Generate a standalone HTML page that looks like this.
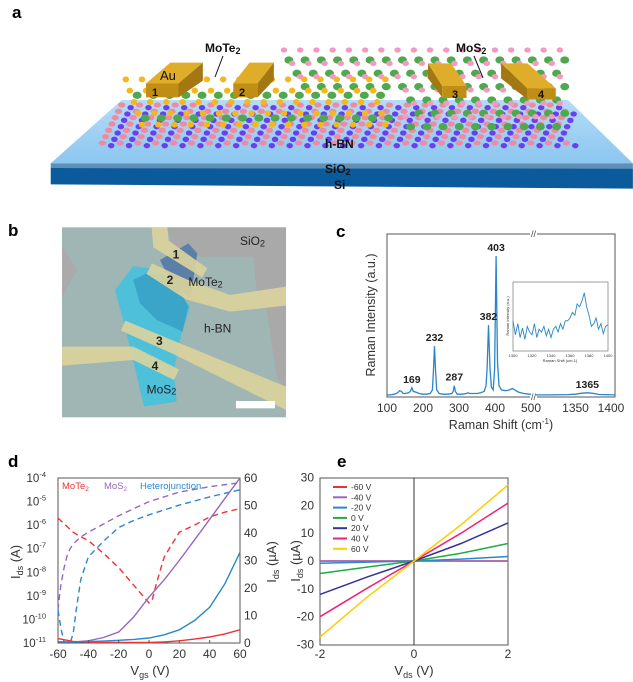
<!DOCTYPE html>
<html><head><meta charset="utf-8"><style>
html,body{margin:0;padding:0;background:#fff;}
svg{display:block;font-family:"Liberation Sans",sans-serif;}
</style></head><body>
<svg id="fig" width="633" height="682" viewBox="0 0 633 682" xmlns="http://www.w3.org/2000/svg">
<!-- PANEL A -->
<g id="panelA">
 <text x="12" y="18" font-size="17" font-weight="bold">a</text>
 <g id="aScene" transform="scale(0.4057,0.3333)">
  <defs><linearGradient id="slabG" x1="0" y1="0" x2="0" y2="1"><stop offset="0" stop-color="#b5dcf7"/><stop offset="1" stop-color="#8cc6f0"/></linearGradient></defs>
  <polygon points="300,300 1400,300 1560,490 125,490" fill="url(#slabG)"/>
  <polygon points="125,490 1560,490 1560,506 125,504" fill="#5f8fb5"/>
  <polygon points="125,504 1560,506 1560,566 125,553" fill="#0b5b9c"/>
  <g id="lattice"></g>
  <g><polygon points="360,250 420,188 500,188 440,250" fill="#e0ad2a"/><polygon points="440,250 500,188 500,242 440,292" fill="#a37812"/><rect x="360" y="250" width="80" height="42" fill="#c08e14"/></g>
  <g><polygon points="575,250 615,188 675,188 635,250" fill="#e0ad2a"/><polygon points="635,250 675,188 675,240 635,292" fill="#a37812"/><rect x="575" y="250" width="60" height="42" fill="#c08e14"/></g>
  <g><polygon points="1055,190 1112,190 1150,258 1090,258" fill="#e0ad2a"/><polygon points="1055,190 1090,258 1090,292 1055,235" fill="#a37812"/><rect x="1090" y="258" width="60" height="36" fill="#c08e14"/></g>
  <g><polygon points="1235,190 1300,190 1370,265 1300,265" fill="#e0ad2a"/><polygon points="1235,190 1300,265 1300,298 1235,235" fill="#a37812"/><rect x="1300" y="265" width="70" height="34" fill="#c08e14"/></g>
 </g>
 <g font-weight="bold" font-size="12" fill="#111">
  <text x="160" y="80" font-weight="normal" font-size="13">Au</text>
  <text x="152" y="96" font-size="11">1</text>
  <text x="239" y="96" font-size="11">2</text>
  <text x="452" y="98" font-size="11">3</text>
  <text x="538" y="98" font-size="11">4</text>
  <text x="205" y="52">MoTe<tspan font-size="9" dy="2">2</tspan></text>
  <text x="456" y="52">MoS<tspan font-size="9" dy="2">2</tspan></text>
  <text x="325" y="148">h-BN</text>
  <text x="325" y="173">SiO<tspan font-size="9" dy="2">2</tspan></text>
  <text x="334" y="189">Si</text>
 </g>
 <line x1="223" y1="56" x2="215" y2="77" stroke="#111" stroke-width="1"/>
 <line x1="474" y1="56" x2="483" y2="78" stroke="#111" stroke-width="1"/>
</g>

<!-- PANEL B -->
<g id="panelB">
 <text x="8" y="236" font-size="17" font-weight="bold">b</text>
 <g transform="translate(0,210) scale(0.3333)">
  <rect x="186" y="52" width="672" height="570" fill="#9fb6b5"/>
  <polygon points="500,52 858,52 858,540 830,500 800,300 770,240 760,140 600,140 520,110" fill="#a9a9a9"/>
  <polygon points="186,110 232,180 186,260" fill="#aaaaaa"/>
  <polygon points="345,240 400,168 480,180 570,290 545,370 522,480 530,575 432,590 392,420 372,340" fill="#4fc0da"/>
  <polygon points="400,210 440,190 520,200 565,290 548,365 470,330 420,280" fill="#3aa5c8"/>
  <polygon points="480,150 565,100 592,130 572,262 520,232" fill="#5b80a8"/>
  <g fill="#dcd39c" fill-opacity="0.9">
   <polygon points="455,52 502,52 506,92 622,175 606,202 460,112"/>
   <polygon points="440,192 456,160 560,208 690,255 858,230 858,287 690,305 558,268"/>
   <polygon points="363,362 376,332 520,392 858,530 858,600 520,432"/>
   <polygon points="186,410 400,410 537,478 522,510 400,450 186,467"/>
  </g>
  <g font-size="36" fill="#222">
   <text x="518" y="145" font-weight="bold">1</text>
   <text x="500" y="222" font-weight="bold">2</text>
   <text x="468" y="405" font-weight="bold">3</text>
   <text x="455" y="480" font-weight="bold">4</text>
   <text x="565" y="228">MoTe<tspan font-size="27" dy="4">2</tspan></text>
   <text x="612" y="368">h-BN</text>
   <text x="720" y="105">SiO<tspan font-size="27" dy="4">2</tspan></text>
   <text x="440" y="550">MoS<tspan font-size="27" dy="4">2</tspan></text>
  </g>
  <rect x="708" y="573" width="117" height="22" fill="#fff"/>
 </g>
</g>

<!-- PANEL C -->
<g id="panelC">
 <text x="336" y="237" font-size="17" font-weight="bold">c</text>
</g>
<!-- PANEL D -->
<g id="panelD">
 <text x="8" y="467" font-size="17" font-weight="bold">d</text>
</g>
<!-- PANEL E -->
<g id="panelE">
 <text x="337" y="467" font-size="17" font-weight="bold">e</text>
</g>
</svg>
<script>
// ---------- Panel C data ----------
const ramanShiftLeft = [100,110,120,130,135,140,145,150,160,165,169,173,180,190,200,210,220,226,229,232,235,238,245,255,270,280,284,287,290,295,310,320,325,330,340,350,360,370,375,378,382,386,390,395,399,403,407,411,418,430,440,448,455,465,480,495,500];
const ramanIntLeft = [1.5,1.5,2,3,4.5,4,2.5,2.5,3,4,6.5,4,3.5,2.5,2,2,2.5,5,18,36,18,5,2.5,2,2,2.5,4,8,4,2,2,2.5,3,2.5,2.5,2.5,3,4,8,20,51,20,7,5,20,100,25,8,5,4.5,5,6,5,3.5,2.5,2,2];
const ramanShiftRight = [1300,1320,1340,1350,1358,1365,1372,1380,1400];
const ramanIntRight = [1.5,1.5,1.7,2,2.7,3,2.6,1.8,1.5];
const peakLabels = [169,232,287,382,403,1365];
const peakHeights = [6.5,36,8,51,100,3];
const cTicksLeft = [100,200,300,400,500];
const cTicksRight = [1350,1400];
const insetInt = [45,20,40,15,32,12,35,25,20,40,15,30,25,35,18,30,15,30,35,25,40,30,45,45,50,60,55,75,70,80,95,70,55,35,40,50,30,40,22,35,38];
const insetTicks = [1300,1320,1340,1360,1380,1400];
// ---------- Panel D data ----------
const vgs = [-60,-55,-50,-45,-40,-30,-20,-10,0,2,5,10,20,30,40,50,60];
const mote2Log = [-5.7,-6.0,-6.3,-6.5,-6.65,-7.2,-7.8,-8.55,-9.3,-9.2,-8.45,-7.35,-6.3,-6.0,-5.65,-5.45,-5.3];
const mos2LogV = [-60,-59,-58,-56,-54,-52,-50,-45,-40,-30,-20,-10,0,20,40,60];
const mos2Log = [-9.6,-9.0,-8.5,-7.8,-7.3,-7.0,-6.8,-6.5,-6.3,-5.95,-5.6,-5.3,-5.0,-4.6,-4.37,-4.2];
const heteroLogV = [-60,-58,-56,-54,-52,-50,-48,-45,-40,-30,-20,-10,0,20,40,60];
const heteroLog = [-9.6,-10.4,-10.95,-11,-11,-10.6,-9.6,-8.3,-7.35,-6.68,-6.1,-5.8,-5.56,-5.15,-4.8,-4.5];
const vgsLin = [-60,-50,-40,-30,-20,-10,0,10,20,30,40,50,60];
const mote2Lin = [1.6,0.6,0.3,0.2,0.2,0.2,0.2,0.4,0.8,1.4,2.2,3.3,4.8];
const mos2Lin = [0.4,0.4,0.8,2,4,9.5,16.7,23,30,37.5,45,52.5,60];
const heteroLin = [0.4,0.4,0.5,0.7,1,1.3,1.8,3,4.8,8.2,13,21.5,33];
const dXTicks = [-60,-40,-20,0,20,40,60];
const dLogTicks = [-4,-5,-6,-7,-8,-9,-10,-11];
const dLinTicks = [0,10,20,30,40,50,60];
// ---------- Panel E data ----------
const vds = [-2,-1,0,1,2];
const eLabels = ['-60 V','-40 V','-20 V','0 V','20 V','40 V','60 V'];
const eColors = ['#ee3030','#9966bb','#2a88cc','#22aa44','#333399','#ee2277','#ffcc00'];
const eM60 = [0,0,0,0,0];
const eM40 = [0,0,0,0,0];
const eM20 = [-0.8,-0.4,0,0.7,1.6];
const e0 = [-4.5,-2.2,0,2.8,6.3];
const e20 = [-12,-5.8,0,6.3,13.7];
const e40 = [-20,-9.8,0,10,20.8];
const e60 = [-27.3,-13,0,13,27.3];
const eYTicks = [30,20,10,0,-10,-20,-30];
const eXTicks = [-2,0,2];

const NS='http://www.w3.org/2000/svg';
function mk(parent,tag,attrs,text){const e=document.createElementNS(NS,tag);for(const k in attrs)e.setAttribute(k,attrs[k]);if(text!==undefined)e.textContent=text;parent.appendChild(e);return e;}
function pathD(xs,ys,fx,fy){return xs.map((x,i)=>(i?'L':'M')+fx(x).toFixed(1)+','+fy(ys[i]).toFixed(1)).join(' ');}

// ---------- Panel A lattice ----------
(function(){
 const g=document.getElementById('lattice');
 // h-BN
 for(let r=0;r<7;r++){const y=315+r*19;for(let x=300-r*8;x<1400;x+=44){
  let c=mk(g,'ellipse',{cx:x,cy:y,rx:9,ry:8,fill:'#f08aa0'});
  c=mk(g,'ellipse',{cx:x+22,cy:y+8,rx:8,ry:8,fill:'#6a3ff0'});}}
 // MoS2 (middle/right)
 for(let r=0;r<6;r++){const y=150+r*40;for(let x=700+r*20;x<1400;x+=40){
  if(x<1000&&r>2)continue;
  let c=mk(g,'ellipse',{cx:x,cy:y,rx:8,ry:8,fill:'#f39ac2'});
  c=mk(g,'ellipse',{cx:x+12,cy:y+30,rx:11,ry:11,fill:'#4ea84e'});}}
 // MoTe2 (left)
 for(let r=0;r<5;r++){const y=238+r*34;for(let x=310+r*10;x<960;x+=40){
  let c=mk(g,'ellipse',{cx:x,cy:y,rx:8,ry:9,fill:'#f5b81c'});
  if(r%2===1){c=mk(g,'ellipse',{cx:x+18,cy:y+14,rx:11,ry:11,fill:'#4ea84e'});}}}
})();

// ---------- Panel C ----------
(function(){
 const g=document.getElementById('panelC');
 const xl=v=>387+(v-100)*(531-387)/400, xr=v=>536+(v-1300)*(615-536)/100, y=v=>397-v*1.41;
 let f=mk(g,'rect',{x:387,y:234,width:228,height:163,fill:'none',stroke:'#555','stroke-width':1});
 
 let wb=mk(g,'rect',{x:530,y:230,width:7,height:170,fill:'#fff'});
 
 for(const yy of [234,397]){const b=mk(g,'text',{x:533.5,y:yy+3,'font-size':9,'text-anchor':'middle',fill:'#444'},'//');}
 let p=mk(g,'path',{d:pathD(ramanShiftLeft,ramanIntLeft,xl,y),fill:'none',stroke:'#2a86c8','stroke-width':1.3});
 
 p=mk(g,'path',{d:pathD(ramanShiftRight,ramanIntRight,xr,y),fill:'none',stroke:'#2a86c8','stroke-width':1.3});
 
 peakLabels.forEach((pk,i)=>{const xx=pk>600?xr(pk):xl(pk);const t=mk(g,'text',{x:xx,y:y(peakHeights[i])-5,'font-size':10.5,'font-weight':'bold','text-anchor':'middle',fill:'#222'},String(pk));});
 cTicksLeft.forEach(v=>{const t=mk(g,'text',{x:xl(v),y:412,'font-size':12,'text-anchor':'middle',fill:'#333'},String(v));});
 cTicksRight.forEach(v=>{const t=mk(g,'text',{x:xr(v)-(v===1400?4:0),y:412,'font-size':12,'text-anchor':'middle',fill:'#333'},String(v));});
 let t=mk(g,'text',{x:501,y:429,'font-size':12.5,'text-anchor':'middle',fill:'#333'});t.innerHTML='Raman Shift (cm<tspan font-size="8" dy="-5">-1</tspan><tspan dy="5">)</tspan>';
 
 t=mk(g,'text',{x:0,y:0,'font-size':12.5,'text-anchor':'middle',fill:'#333',transform:'translate(375,315) rotate(-90)'},'Raman Intensity (a.u.)');
 
 // inset
 const ix=v=>513+(v-1300)*(608-513)/100, iy=v=>346-v*0.56;
 f=mk(g,'rect',{x:513,y:282,width:95,height:69,fill:'#fff',stroke:'#888','stroke-width':0.8});
 
 const insetShift=insetInt.map((_,i)=>1300+i*2.5);
 p=mk(g,'path',{d:pathD(insetShift,insetInt,ix,iy),fill:'none',stroke:'#2a86c8','stroke-width':0.9});
 
 insetTicks.forEach(v=>{const tt=mk(g,'text',{x:ix(v),y:357,'font-size':4,'text-anchor':'middle',fill:'#333'},String(v));});
 t=mk(g,'text',{x:560,y:362,'font-size':4,'text-anchor':'middle',fill:'#333'},'Raman Shift (cm-1)');
 t=mk(g,'text',{x:0,y:0,'font-size':4,'text-anchor':'middle',fill:'#333',transform:'translate(509,316) rotate(-90)'},'Raman Intensity (a.u.)');
})();

// ---------- Panel D ----------
(function(){
 const g=document.getElementById('panelD');
 const x=v=>58+(v+60)*182/120, yL=l=>478+(-4-l)*165/7, yR=u=>643-u*2.75;
 let f=mk(g,'rect',{x:58,y:478,width:182,height:165,fill:'none',stroke:'#555','stroke-width':1});
 
 const lines=[[vgs,mote2Log,yL,'#ee3333',1,'mote2-log-dashed'],[mos2LogV,mos2Log,yL,'#9966bb',1,'mos2-log-dashed'],[heteroLogV,heteroLog,yL,'#2a88cc',1,'hetero-log-dashed'],
  [vgsLin,mote2Lin,yR,'#ee3333',0,'mote2-linear'],[vgsLin,mos2Lin,yR,'#9966bb',0,'mos2-linear'],[vgsLin,heteroLin,yR,'#2a88cc',0,'hetero-linear']];
 lines.forEach(L=>{const p=mk(g,'path',{d:pathD(L[0],L[1],x,L[2]),fill:'none',stroke:L[3],'stroke-width':1.4});if(L[4])p.setAttribute('stroke-dasharray','6,4');
  });
 dXTicks.forEach(v=>{mk(g,'line',{x1:x(v),x2:x(v),y1:643,y2:640,stroke:'#555'});const t=mk(g,'text',{x:x(v),y:658,'font-size':12,'text-anchor':'middle',fill:'#333'},String(v));});
 dLogTicks.forEach(l=>{const t=mk(g,'text',{x:46,y:yL(l)+4,'font-size':11.5,'text-anchor':'end',fill:'#333'});t.innerHTML='10<tspan font-size="7.5" dy="-5">'+l+'</tspan>';});
 dLinTicks.forEach(u=>{const t=mk(g,'text',{x:244,y:yR(u)+4,'font-size':12,fill:'#333'},String(u));});
 let t=mk(g,'text',{x:150,y:675,'font-size':13,'text-anchor':'middle',fill:'#333'});t.innerHTML='V<tspan font-size="9" dy="3">gs</tspan><tspan dy="-3"> (V)</tspan>';
 t=mk(g,'text',{x:0,y:0,'font-size':13,'text-anchor':'middle',fill:'#333',transform:'translate(20,562) rotate(-90)'});t.innerHTML='I<tspan font-size="9" dy="3">ds</tspan><tspan dy="-3"> (A)</tspan>';
 t=mk(g,'text',{x:0,y:0,'font-size':13,'text-anchor':'middle',fill:'#333',transform:'translate(276,562) rotate(-90)'});t.innerHTML='I<tspan font-size="9" dy="3">ds</tspan><tspan dy="-3"> (µA)</tspan>';
 t=mk(g,'text',{x:62,y:489,'font-size':9.5,fill:'#ee3333'});t.innerHTML='MoTe<tspan font-size="6.5" dy="2">2</tspan>';
 t=mk(g,'text',{x:104,y:489,'font-size':9.5,fill:'#9966bb'});t.innerHTML='MoS<tspan font-size="6.5" dy="2">2</tspan>';
 t=mk(g,'text',{x:140,y:489,'font-size':9.5,fill:'#2a88cc'},'Heterojunction');
})();

// ---------- Panel E ----------
(function(){
 const g=document.getElementById('panelE');
 const x=v=>320+(v+2)*188/4, y=v=>561-v*83.5/30;
 let f=mk(g,'rect',{x:320,y:478,width:188,height:167,fill:'none',stroke:'#555','stroke-width':1});
 
 let l=mk(g,'line',{x1:x(0),x2:x(0),y1:478,y2:645,stroke:'#333','stroke-width':1});
 l=mk(g,'line',{x1:320,x2:508,y1:y(0),y2:y(0),stroke:'#333','stroke-width':1});
 const series=[eM60,eM40,eM20,e0,e20,e40,e60];
 series.forEach((s,i)=>{const p=mk(g,'path',{d:pathD(vds,s,x,y),fill:'none',stroke:eColors[i],'stroke-width':1.5});
  const ly=487+i*10.3;const ll=mk(g,'line',{x1:333,x2:347,y1:ly,y2:ly,stroke:eColors[i],'stroke-width':2});
  const t=mk(g,'text',{x:351,y:ly+3,'font-size':8.5,fill:'#333'},eLabels[i]);});
 eYTicks.forEach(v=>{const t=mk(g,'text',{x:314,y:y(v)+4,'font-size':12,'text-anchor':'end',fill:'#333'},String(v));});
 eXTicks.forEach(v=>{const t=mk(g,'text',{x:x(v),y:658,'font-size':12,'text-anchor':'middle',fill:'#333'},String(v));});
 let t=mk(g,'text',{x:414,y:675,'font-size':13,'text-anchor':'middle',fill:'#333'});t.innerHTML='V<tspan font-size="9" dy="3">ds</tspan><tspan dy="-3"> (V)</tspan>';
 t=mk(g,'text',{x:0,y:0,'font-size':13,'text-anchor':'middle',fill:'#333',transform:'translate(300,561) rotate(-90)'});t.innerHTML='I<tspan font-size="9" dy="3">ds</tspan><tspan dy="-3"> (µA)</tspan>';
})();
</script>
</body></html>
